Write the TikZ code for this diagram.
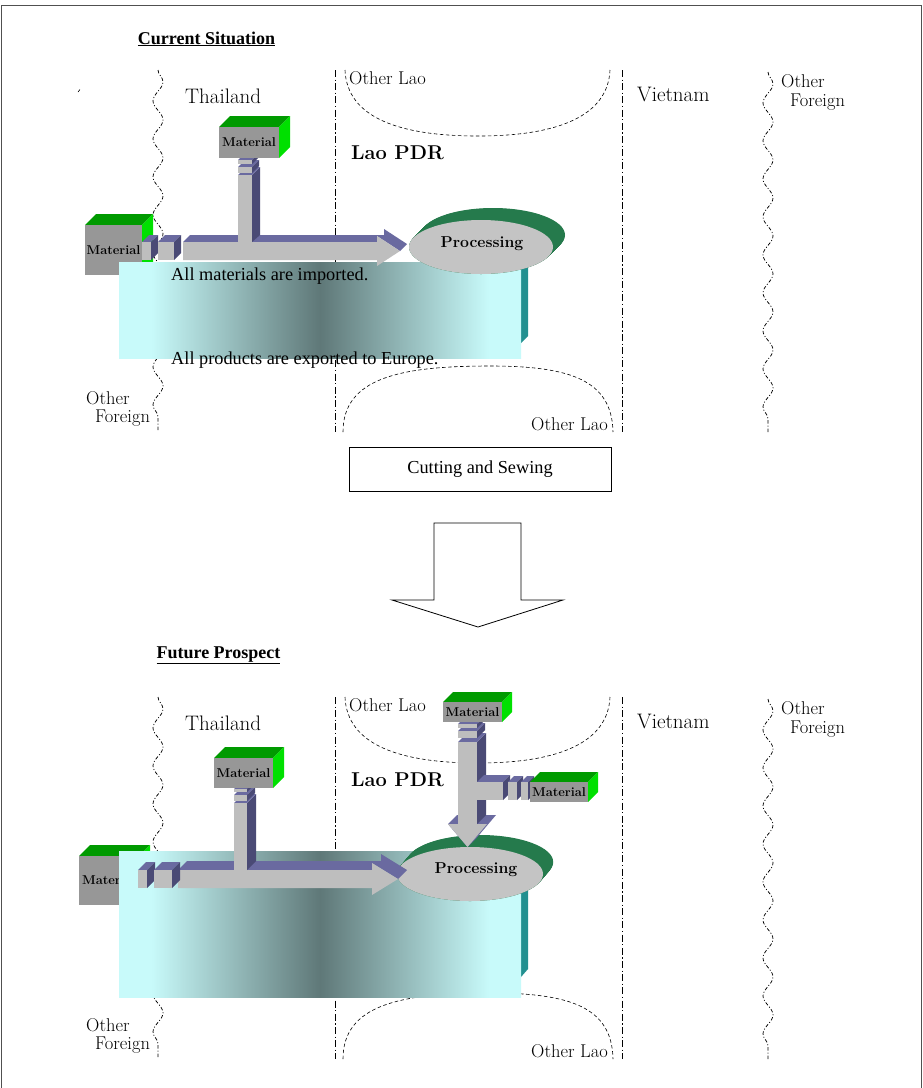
\documentclass[tikz,border=0pt]{standalone}
\usepackage{fontspec}
\newfontfamily\timesfont{Liberation Serif}
\usetikzlibrary{decorations.pathmorphing}

\definecolor{barfront}{HTML}{BEBEBE}
\definecolor{bartop}{HTML}{6A6AA0}
\definecolor{barside}{HTML}{4A4A75}
\definecolor{matfront}{HTML}{979797}
\definecolor{mattop}{HTML}{009A00}
\definecolor{matside}{HTML}{00E000}
\definecolor{procgray}{HTML}{C4C4C4}
\definecolor{procgreen}{HTML}{257A4C}
\definecolor{bandlight}{HTML}{C8FAFA}
\definecolor{banddark}{HTML}{5F7878}
\definecolor{bandside}{HTML}{229090}
\definecolor{framegray}{HTML}{505050}

% light cyan -> dark slate -> light cyan, across the width of the path
\pgfdeclarehorizontalshading{bandshade}{100bp}{color(0bp)=(bandlight); color(25bp)=(bandlight); color(29bp)=(bandlight); color(50bp)=(banddark); color(71bp)=(bandlight); color(75bp)=(bandlight); color(100bp)=(bandlight)}

\tikzset{
  place/.style={font=\fontsize{18.5}{21}\selectfont, inner sep=0pt},
  country/.style={font=\fontsize{21}{24}\selectfont, inner sep=0pt},
  laopdr/.style={font=\fontsize{20}{23}\selectfont\bfseries, inner sep=0pt},
  matlabel/.style={font=\fontsize{12.8}{14}\selectfont\bfseries, inner sep=0pt},
  proclabel/.style={font=\fontsize{15.8}{18}\selectfont\bfseries, inner sep=0pt},
  serifnote/.style={font=\timesfont\fontsize{18.3}{20}\selectfont, inner sep=0pt},
  heading/.style={font=\timesfont\bfseries\fontsize{18}{20}\selectfont, inner sep=0pt},
  borderline/.style={line width=0.8pt, dash pattern=on 7pt off 2.5pt on 1.2pt off 2.5pt},
  wavyline/.style={line width=0.75pt, dash pattern=on 3.5pt off 2pt on 1pt off 2pt,
    decorate, decoration={snake, amplitude=5pt, segment length=38pt}},
  arcline/.style={line width=0.6pt, dash pattern=on 3.5pt off 2.5pt},
}

% 3-D block: x, y (front top-left), width, height, depth, front, top, side colours
\newcommand{\prism}[8]{%
  \fill[#7] (#1,#2) -- ++(#5,-#5) -- ++(#3,0) -- ++(-#5,#5) -- cycle;
  \fill[#8] ({#1+#3},#2) -- ++(#5,-#5) -- ++(0,#4) -- ++(-#5,#5) -- cycle;
  \fill[#6] (#1,#2) rectangle ++(#3,#4);
}
% material crate with its label
\newcommand{\matbox}[6]{%
  \prism{#2}{#3}{#4}{#5}{#6}{matfront}{mattop}{matside}
  \node[matlabel] (#1) at ({#2+#4/2},{#3+#5/2}) {Material};
}
% borders, regions and their names
\newcommand{\mapframe}[1]{%
  \draw[wavyline] (158,70) -- (158,432);
  \draw[wavyline] (768,72) -- (768,432);
  \draw[borderline] (335,70) -- (335,432);
  \draw[borderline] (622,70) -- (622,432);
  \draw[arcline] (345,70) .. controls (347,118) and (400,136) .. (478,136)
                 .. controls (560,136) and (608,115) .. (610,70);
  \draw[arcline] (343,432) .. controls (343,378) and (400,366) .. (490,366)
                 .. controls (570,366) and (612,380) .. (613,432);
  \node[country, anchor=base west] (#1-thai) at (185,103) {Thailand};
  \node[country, anchor=base west] (#1-viet) at (637,101) {Vietnam};
  \node[place, anchor=base west] (#1-laoN) at (349,84) {Other Lao};
  \node[place, anchor=base west] (#1-laoS) at (531,430) {Other Lao};
  \node[place, anchor=base west] (#1-forE1) at (781,87) {Other};
  \node[place, anchor=base west] (#1-forE2) at (790,106) {Foreign};
  \node[place, anchor=base west] (#1-forW1) at (86,404) {Other};
  \node[place, anchor=base west] (#1-forW2) at (95,422) {Foreign};
  \node[laopdr, anchor=base west] (#1-pdr) at (351,159) {Lao PDR};
}

\begin{document}
\begin{tikzpicture}[x=1pt, y=-1pt]
\useasboundingbox (0,0) rectangle (923,1088);
\fill[white] (0,0) rectangle (923,1088);
\draw[framegray, line width=0.8pt] (1,1090) -- (1,5) -- (921,5) -- (921,1090);

% ================= current situation =================
\node[heading, anchor=base] (curtitle) at (206.5,44) {\underline{Current Situation}};
\mapframe{cs}
\draw[line width=0.6pt] (78,92) -- (80,89.5);

\matbox{csmatL}{85}{225}{57}{50}{11}

\fill[bandside] (521,262) -- (528,255) -- (528,336) -- (521,343) -- cycle;
\shade[shading=bandshade] (119,262) rectangle (521,358);
\node[serifnote, anchor=base west] (csimp) at (171,280) {All materials are imported.};
\node[serifnote, anchor=base west] (csexp) at (171,364) {All products are exported to Europe.};

\foreach \k in {0,0.5,...,12} \fill[procgreen] ({481+\k},{247-\k}) ellipse [x radius=72, y radius=27];
\fill[procgray] (481,247) ellipse [x radius=72, y radius=27];
\node[proclabel] (csproc) at (482,244) {Processing};

% main flow into processing
\fill[bartop] (183,242) -- (190,235) -- (384,235) -- (384,229) -- (407,244) -- (400,251)
  -- (377,236) -- (377,242) -- cycle;
\fill[barfront] (183,242) -- (377,242) -- (377,236) -- (400,251) -- (377,266) -- (377,260)
  -- (183,260) -- cycle;
% feeder from the upper crate
\fill[barside] (252,175) -- (260,167) -- (260,235) -- (252,242) -- cycle;
\fill[bartop] (238,175) -- (246,167) -- (260,167) -- (252,175) -- cycle;
\fill[barfront] (238,175) rectangle (252,242);
\prism{238}{167}{14}{6}{7}{barfront}{bartop}{barside}
\prism{238}{160}{14}{4}{7}{barfront}{bartop}{barside}
\matbox{csmatT}{219}{127}{60}{31}{11}
% links from the left crate
\prism{142}{242}{9}{18}{7}{barfront}{bartop}{barside}
\prism{158}{242}{16}{18}{7}{barfront}{bartop}{barside}

% ================= cutting and sewing / transition =================
\node[draw, line width=0.8pt, minimum width=262pt, minimum height=44pt, inner sep=0pt,
      font=\timesfont\fontsize{18.3}{20}\selectfont] (cutsew) at (480,469) {Cutting and Sewing};
\draw[fill=white, line width=0.8pt] (434,523) -- (521,523) -- (521,600) -- (563,600)
  -- (478,627) -- (392,600) -- (434,600) -- cycle;

% ================= future prospect =================
\node[heading, anchor=base] (futtitle) at (218.5,658) {\underline{Future Prospect}};
\begin{scope}[shift={(0,627)}]
  \mapframe{fp}
\end{scope}

\matbox{fpmatL}{79}{856}{60}{49}{11}

\fill[bandside] (521,880) -- (528,873) -- (528,969) -- (521,977) -- cycle;
\shade[shading=bandshade] (119,851) rectangle (521,997);

\foreach \k in {0,0.5,...,12} \fill[procgreen] ({470+0.85*\k},{874-\k}) ellipse [x radius=73, y radius=27];
\fill[procgray] (470,874) ellipse [x radius=73, y radius=27];
\node[proclabel] (fpproc) at (476,870) {Processing};

% main flow into processing
\fill[bartop] (178,870) -- (187,861) -- (381,861) -- (381,854) -- (407,870) -- (398,879)
  -- (372,863) -- (372,870) -- cycle;
\fill[barfront] (178,870) -- (372,870) -- (372,863) -- (398,879) -- (372,895) -- (372,888)
  -- (178,888) -- cycle;
% feeder from the Thai crate
\fill[barside] (247,803) -- (256,794) -- (256,861) -- (247,870) -- cycle;
\fill[bartop] (234,803) -- (243,794) -- (256,794) -- (247,803) -- cycle;
\fill[barfront] (234,803) rectangle (247,870);
\prism{234}{795}{13}{6}{8}{barfront}{bartop}{barside}
\prism{234}{789}{13}{3}{8}{barfront}{bartop}{barside}
\matbox{fpmatT}{214}{758}{59}{30}{11}
% links from the left crate
\prism{138}{870}{9}{18}{8}{barfront}{bartop}{barside}
\prism{154}{870}{18}{18}{8}{barfront}{bartop}{barside}

% local supply: downward arrow into processing
\fill[bartop] (448,824) -- (457,815) -- (496,815) -- (476.5,838) -- (467.5,847) -- cycle;
\fill[barfront] (448,824) -- (487,824) -- (467.5,847) -- cycle;
\fill[barside] (477,742) -- (486,733) -- (486,815) -- (477,824) -- cycle;
\fill[bartop] (458,742) -- (467,733) -- (486,733) -- (477,742) -- cycle;
\fill[barfront] (458,742) rectangle (477,824);
\prism{458}{731}{19}{7}{8}{barfront}{bartop}{barside}
\prism{458}{724}{19}{4}{8}{barfront}{bartop}{barside}
\matbox{fpmatU}{443}{702}{59}{20}{10}
% side branch from the second local crate
\prism{477}{782}{26}{18}{7}{barfront}{bartop}{barside}
\prism{508}{782}{9}{18}{6}{barfront}{bartop}{barside}
\prism{521}{782}{7}{18}{6}{barfront}{bartop}{barside}
\matbox{fpmatR}{530}{782}{58}{20}{10}
\end{tikzpicture}
\end{document}
